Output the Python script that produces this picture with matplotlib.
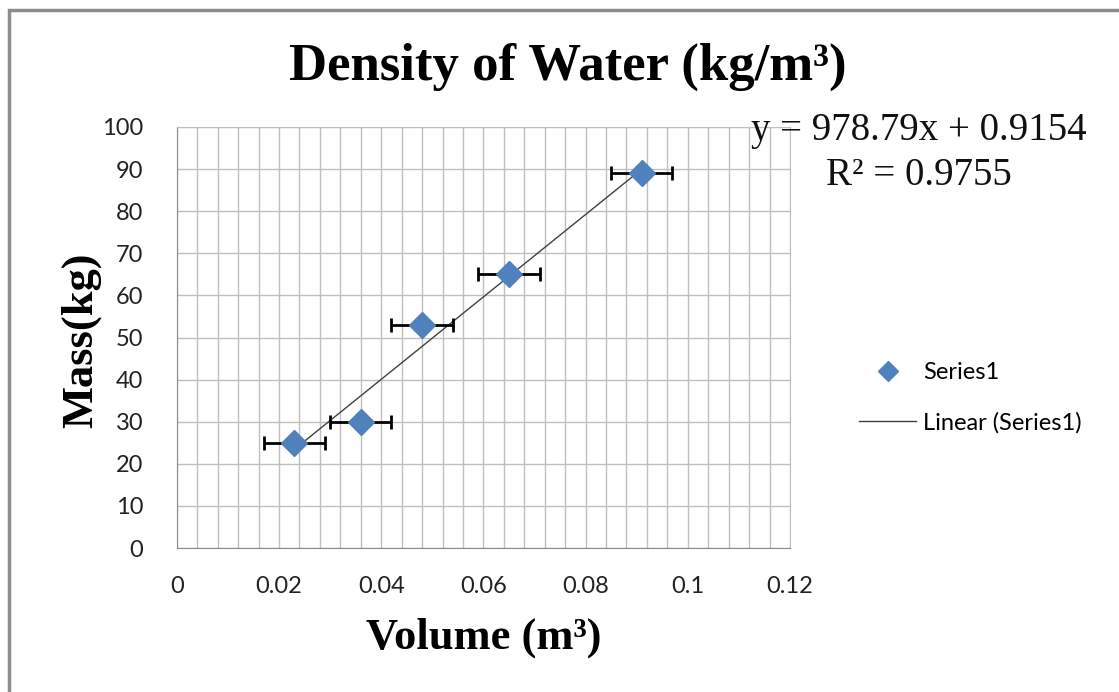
import numpy as np
import matplotlib
matplotlib.use("Agg")
import matplotlib.pyplot as plt
from matplotlib.patches import Rectangle

# data
volume = [0.023, 0.036, 0.048, 0.065, 0.091]   # m^3
mass = [25, 30, 53, 65, 89]                     # kg
vol_err = 0.006
x_ticks = [0, 0.02, 0.04, 0.06, 0.08, 0.1, 0.12]
x_tick_labels = ["0", "0.02", "0.04", "0.06", "0.08", "0.1", "0.12"]
y_ticks = list(range(0, 101, 10))

serif = "Liberation Serif"
sans = "Lato"

fig = plt.figure(figsize=(11.19, 6.92), dpi=100)
ax = fig.add_axes([0.158, 0.208, 0.548, 0.6085])

# outer chart frame (grey)
fig.patches.append(Rectangle((9 / 1119, -0.05), 1.2, 1 - 10 / 692 + 0.05,
                             transform=fig.transFigure, fill=False,
                             edgecolor="#8c8c8c", linewidth=2.5, zorder=0))

# linear trendline over the data range
slope, intercept = np.polyfit(volume, mass, 1)
xs = np.array([min(volume), max(volume)])
trend, = ax.plot(xs, slope * xs + intercept, color="#404040", linewidth=1.0,
                 zorder=3, label="Linear (Series1)")

ax.errorbar(volume, mass, xerr=vol_err, fmt="none", ecolor="black",
            elinewidth=2, capsize=5, capthick=2, zorder=4)
pts, = ax.plot(volume, mass, linestyle="none", marker="D", markersize=13,
               color="#4F81BD", zorder=5, label="Series1")

ax.set_xlim(0, 0.12)
ax.set_ylim(0, 100)
ax.set_xticks(x_ticks)
ax.set_xticklabels(x_tick_labels)
ax.set_yticks(y_ticks)
ax.set_xticks(np.arange(0, 0.1201, 0.004), minor=True)
ax.grid(True, which="major", color="#bfbfbf", linewidth=1)
ax.grid(True, which="minor", axis="x", color="#bfbfbf", linewidth=1)
ax.set_axisbelow(True)
for s in ax.spines.values():
    s.set_color("#bfbfbf")
ax.spines["left"].set_color("#8c8c8c")
ax.spines["bottom"].set_color("#8c8c8c")
ax.tick_params(which="both", length=0, labelsize=17)
ax.tick_params(axis="y", pad=24)
ax.tick_params(axis="x", pad=20)
for lab in ax.get_xticklabels() + ax.get_yticklabels():
    lab.set_fontfamily(sans)
    lab.set_color("#222222")

fig.text(0.507, 0.903, "Density of Water (kg/m³)", ha="center", va="center",
         fontsize=38, fontweight="bold", family=serif)
fig.text(0.432, 0.078, "Volume (m³)", ha="center", va="center",
         fontsize=32, fontweight="bold", family=serif)
fig.text(0.072, 0.508, "Mass(kg)", ha="center", va="center", rotation=90,
         fontsize=32, fontweight="bold", family=serif)

fig.text(0.821, 0.811, "y = %.2fx + %.4f" % (slope, intercept), ha="center",
         va="center", fontsize=28, family=serif, color="#111111")
fig.text(0.821, 0.747, "R² = 0.9755", ha="center", va="center",
         fontsize=28, family=serif, color="#111111")

leg = fig.legend(handles=[pts, trend], loc="center left",
                 bbox_to_anchor=(0.749, 0.425), frameon=False,
                 prop={"family": sans, "size": 17}, handlelength=2.4,
                 handletextpad=0.3, labelspacing=1.2, markerscale=0.75)

fig.savefig("out.png", dpi=100)
